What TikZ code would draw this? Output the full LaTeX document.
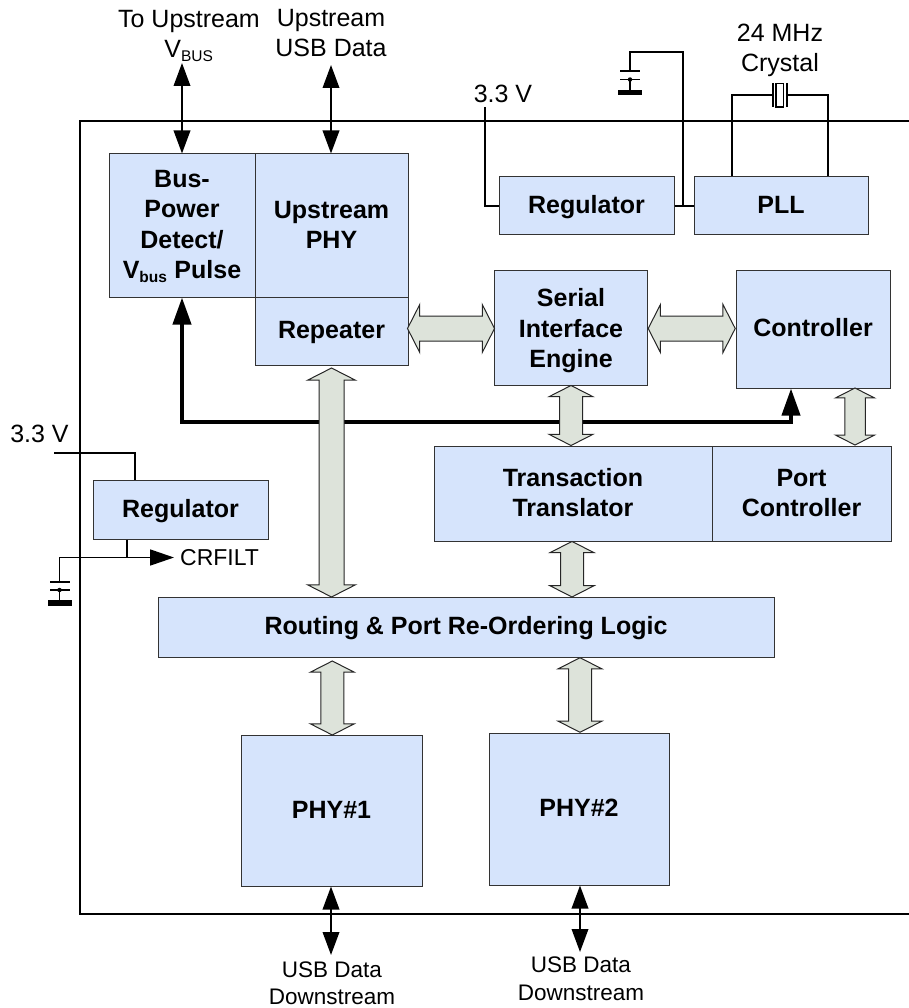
\documentclass[tikz,border=0pt]{standalone}
\usepackage{fontspec}
\setmainfont{Liberation Sans}
\usetikzlibrary{shapes, shapes.arrows, positioning, arrows.meta}
\definecolor{boxblue}{HTML}{D6E4FC}
\definecolor{busgrey}{HTML}{DDE3DA}
\tikzset{
    blockbox/.style={draw=black!80, line width=1pt, fill=boxblue, inner sep=0pt, align=center,
        text height=18pt, text depth=3pt,
        font=\fontsize{25}{30.5}\selectfont\bfseries},
    twolines/.style={text height=48pt, text depth=2pt},
    toplabel/.style={inner sep=0pt, align=center, text height=18pt, text depth=3pt,
        font=\fontsize{25}{30}\selectfont},
    downlabel/.style={inner sep=0pt, align=center, text height=44pt, text depth=2pt,
        font=\fontsize{22.5}{27.5}\selectfont},
    wire/.style={line width=1.7pt},
    sigline/.style={line width=2pt, {Triangle[length=23pt,width=16.5pt]}-{Triangle[length=23pt,width=16.5pt]}},
    buspath/.style={line width=4pt, {Triangle[length=27pt,width=18pt]}-{Triangle[length=27pt,width=18pt]}},
    busarrow/.style={double arrow, draw=black!85, line width=1pt, fill=busgrey, inner xsep=0pt, inner ysep=12pt,
        minimum width=47pt, double arrow head extend=11.5pt, double arrow tip angle=126},
    busthin/.style={busarrow, inner ysep=11pt, minimum width=43pt, double arrow head extend=10.5pt},
    busnarrow/.style={busarrow, inner ysep=9.75pt, minimum width=38pt, double arrow head extend=9.25pt}
}
\begin{document}
\begin{tikzpicture}[x=1pt, y=-1pt]
    \useasboundingbox (0, 0) rectangle (909, 1008);

    % chip outline, open at the right edge
    \coordinate (frametr) at (909, 121);
    \coordinate (frametl) at (80, 121);
    \coordinate (framebl) at (80, 914);
    \coordinate (framebr) at (909, 914);
    \draw[line width=2pt] (frametr) -- (frametl) -- (framebl) -- (framebr);

    % blocks
    \node[blockbox, text height=108pt, text depth=2pt, minimum width=146pt, minimum height=143pt] (buspower) at (182, 225.5)
        {Bus-\\Power\\Detect/\\V\textsubscript{\fontsize{15.5}{15.5}\selectfont bus} Pulse};
    \node[blockbox, twolines, minimum width=153pt, minimum height=143pt] (upphy) at (331.5, 225.5) {Upstream\\PHY};
    \node[blockbox, minimum width=153pt, minimum height=68pt] (repeater) at (331.5, 331) {Repeater};
    \node[blockbox, minimum width=175pt, minimum height=58pt] (regtop) at (586.5, 206) {Regulator};
    \node[blockbox, minimum width=174pt, minimum height=58pt] (pll) at (781, 206) {PLL};
    \node[blockbox, text height=82.4pt, text depth=2pt, minimum width=153pt, minimum height=115pt] (sie) at (571, 327.5) {Serial\\Interface\\Engine};
    \node[blockbox, minimum width=154pt, minimum height=118pt] (controller) at (813, 329) {Controller};
    \node[blockbox, twolines, minimum width=278pt, minimum height=95pt] (translator) at (573, 493.5) {Transaction\\Translator};
    \node[blockbox, twolines, minimum width=179pt, minimum height=95pt] (portctl) at (801.5, 493.5) {Port\\Controller};
    \node[blockbox, minimum width=175pt, minimum height=59pt] (regleft) at (180.5, 509.5) {Regulator};
    \node[blockbox, minimum width=616pt, minimum height=60pt] (routing) at (466, 627) {Routing \& Port Re-Ordering Logic};
    \node[blockbox, minimum width=181pt, minimum height=151pt] (phyone) at (331.5, 810.5) {PHY\#1};
    \node[blockbox, minimum width=180pt, minimum height=152pt] (phytwo) at (579, 809) {PHY\#2};

    % outside labels
    \node[toplabel, twolines] (vbuslabel) at (189, 35) {To Upstream\\V\textsubscript{\fontsize{15.5}{15.5}\selectfont BUS}};
    \node[toplabel, twolines] (usblabel) at (331, 33.7) {Upstream\\USB Data};
    \node[toplabel, twolines] (crystallabel) at (780, 48.7) {24 MHz\\Crystal};
    \node[toplabel] (supplytop) at (503, 95) {3.3 V};
    \node[toplabel] (supplyleft) at (39.5, 435) {3.3 V};
    \node[toplabel, anchor=west, font=\fontsize{23}{30}\selectfont] (crfilt) at (180, 557.5) {CRFILT};
    \node[downlabel] (downone) at (332, 983.5) {USB Data\\Downstream};
    \node[downlabel] (downtwo) at (581, 979) {USB Data\\Downstream};

    % signal arrows
    \coordinate (vbusend) at (182, 63);
    \coordinate (usbend) at (331, 65);
    \coordinate (oneend) at (331, 955);
    \coordinate (twoend) at (580, 952);
    \draw[sigline] (vbusend) -- (vbusend |- buspower.north);
    \draw[sigline] (usbend) -- (usbend |- upphy.north);
    \draw[sigline] (oneend) -- (oneend |- phyone.south);
    \draw[sigline] (twoend) -- (twoend |- phytwo.south);

    % detect line
    \coordinate (detleft) at (182, 422);
    \coordinate (detright) at (791, 422);
    \draw[buspath] (buspower.south) -- (detleft) -- (detright) -- (detright |- controller.south);

    % wall bus arrows
    \node[busarrow, minimum height=87pt] (repsie) at (451, 328.5) {};
    \node[busarrow, minimum height=87pt] (siectl) at (691.7, 328.5) {};
    \node[busarrow, minimum height=229pt, rotate=90] (reprout) at (331.5, 482.5) {};
    \node[busthin, minimum height=60pt, rotate=90] (sietrans) at (571, 415.5) {};
    \node[busnarrow, minimum height=57pt, rotate=90] (ctlport) at (855, 416.5) {};
    \node[busthin, minimum height=55.5pt, rotate=90] (transrout) at (572, 569.2) {};
    \node[busthin, minimum height=74pt, rotate=90] (routone) at (332.3, 698) {};
    \node[busthin, minimum height=74.6pt, rotate=90] (routtwo) at (580, 695) {};

    % top supply and filter cap
    \coordinate (topsup) at (485, 107);
    \draw[wire] (topsup) |- (regtop.west);
    \draw[wire] (regtop.east) -- (pll.west);
    \coordinate (capjoin) at (683, 206);
    \coordinate (captopa) at (630, 71);
    \draw[wire] (capjoin) |- (630, 52) -- (captopa);
    \draw[wire] (620, 71) -- (640, 71);
    \draw[wire] (620, 79.5) -- (640, 79.5);
    \fill (630, 79.5) circle (2.2pt);
    \draw[wire] (630, 79.5) -- (630, 92);
    \fill (617.5, 90) rectangle (642, 95.5);

    % crystal
    \coordinate (xtall) at (773, 95);
    \coordinate (xtalr) at (787, 95);
    \draw[wire] (pll.north -| 732, 0) |- (xtall);
    \draw[wire] (pll.north -| 828, 0) |- (xtalr);
    \draw[wire] (773, 83) -- (773, 107);
    \draw[wire] (787, 83) -- (787, 107);
    \draw[line width=1.2pt] (776, 83.5) rectangle (783.5, 107);

    % left supply and CRFILT
    \coordinate (leftsup) at (54, 453);
    \draw[wire] (leftsup) -| (regleft.north -| 135, 0);
    \coordinate (crout) at (127, 556.5);
    \draw[wire] (regleft.south -| crout) -- (crout);
    \draw[wire, -{Triangle[length=24pt,width=16pt]}] (59.5, 582) |- (crfilt.west -| 174, 0);
    \draw[wire] (50, 582) -- (70, 582);
    \draw[wire] (50, 590) -- (70, 590);
    \fill (59.5, 590) circle (2.2pt);
    \draw[wire] (59.5, 590) -- (59.5, 602);
    \fill (47.5, 600) rectangle (72, 605.5);
\end{tikzpicture}
\end{document}
